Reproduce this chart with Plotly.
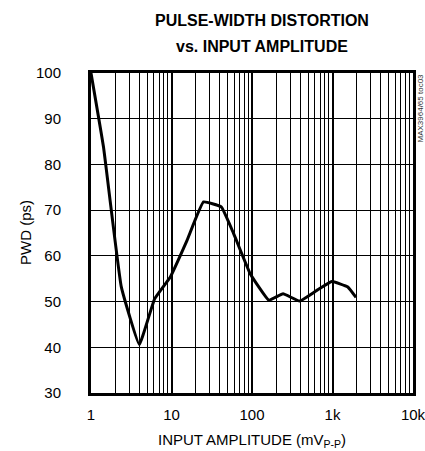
import plotly.graph_objects as go

amplitude_mv = [1, 1.43, 2.38, 3.98, 6.17, 9.67, 15.6, 25, 41.5, 59, 95, 162, 243, 390, 645, 980, 1550, 1960]
pwd_ps = [100, 83.8, 53.2, 40.6, 50.6, 55.4, 63.4, 71.8, 70.7, 64.9, 56.1, 50.3, 51.7, 50.1, 52.5, 54.4, 53.2, 50.9]
x_tickvals = [1, 10, 100, 1000, 10000]
x_ticktext = ["1", "10", "100", "1k", "10k"]
y_tickvals = [30, 40, 50, 60, 70, 80, 90, 100]

font_fam = "Liberation Sans, Arial, sans-serif"

W, H = 425, 451
L, R, T, B = 91, 413, 73, 393


def px(xp):
    return (xp - L) / (R - L)


def py(yp):
    return (B - yp) / (B - T)


fig = go.Figure()
fig.add_trace(go.Scatter(x=amplitude_mv, y=pwd_ps, mode="lines",
                         line=dict(color="black", width=3, shape="spline", smoothing=0.3),
                         showlegend=False, hoverinfo="skip"))

fig.update_layout(
    width=W, height=H,
    margin=dict(l=L, r=W - R, t=T, b=H - B),
    paper_bgcolor="white", plot_bgcolor="white",
    font=dict(family=font_fam, color="black", size=15),
    xaxis=dict(type="log", range=[0, 4], tickvals=x_tickvals, ticktext=x_ticktext,
               showgrid=True, gridcolor="black", gridwidth=1.5,
               minor=dict(showgrid=True, gridcolor="black", gridwidth=1, dtick="D1", ticks=""),
               showline=True, linecolor="black", linewidth=3, mirror=True,
               ticks="", ticklabelstandoff=6, tickfont=dict(size=15),
               ticklabeloverflow="allow",
               automargin=False, zeroline=False),
    yaxis=dict(range=[30, 100], tickvals=y_tickvals,
               showgrid=True, gridcolor="black", gridwidth=1,
               showline=True, linecolor="black", linewidth=3, mirror=True,
               ticks="", ticklabelstandoff=24, tickfont=dict(size=15),
               automargin=False, zeroline=False),
    annotations=[
        dict(text="<b>PULSE-WIDTH DISTORTION</b>", x=px(262), y=py(21),
             xref="paper", yref="paper", xanchor="center", yanchor="middle",
             showarrow=False, font=dict(family=font_fam, size=16, color="black")),
        dict(text="<b>vs. INPUT AMPLITUDE</b>", x=px(262), y=py(47),
             xref="paper", yref="paper", xanchor="center", yanchor="middle",
             showarrow=False, font=dict(family=font_fam, size=16, color="black")),
        dict(text="INPUT AMPLITUDE (mV<sub>P-P</sub>)", x=px(252), y=py(440),
             xref="paper", yref="paper", xanchor="center", yanchor="middle",
             showarrow=False, font=dict(family=font_fam, size=15, color="black")),
        dict(text="PWD (ps)", x=px(25), y=py(233), textangle=-90,
             xref="paper", yref="paper", xanchor="center", yanchor="middle",
             showarrow=False, font=dict(family=font_fam, size=15, color="black")),
        dict(text="MAX3964/65 toc03", x=px(420), y=py(72),
             xref="paper", yref="paper", xanchor="center", yanchor="top",
             textangle=-90, showarrow=False,
             font=dict(family=font_fam, size=8, color="#333")),
    ],
)

fig.write_html("out.html", config={"displayModeBar": False},
               post_script="document.body.style.margin='0';")
